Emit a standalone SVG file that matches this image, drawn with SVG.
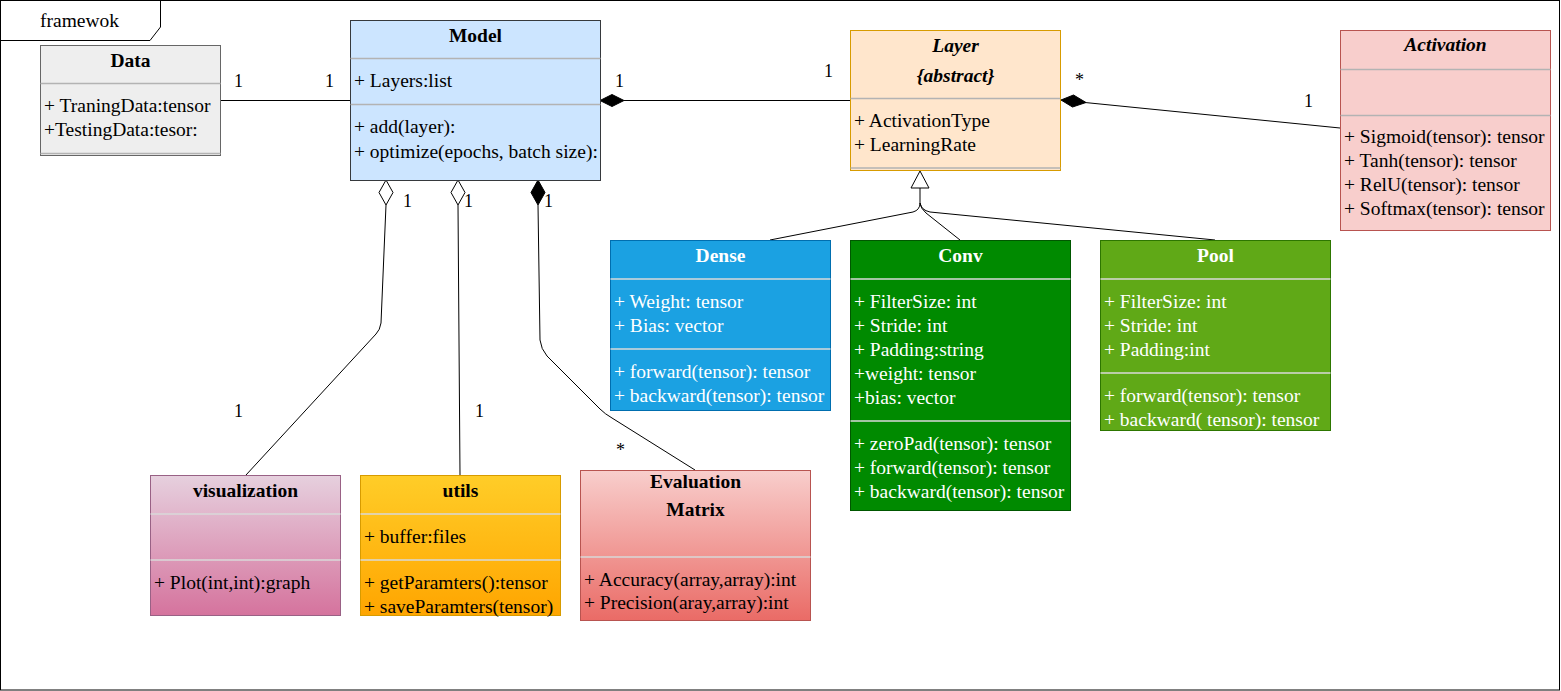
<svg xmlns="http://www.w3.org/2000/svg" width="1561" height="691" viewBox="0 0 1561 691">
<style>
text{font-family:"Liberation Serif","Times New Roman",serif;font-size:19.5px;fill:#000}
.t{font-weight:bold;text-anchor:middle}
.ti{font-weight:bold;font-style:italic;text-anchor:middle}
.w{fill:#fff}
.lbl{font-size:18px;fill:#000}
.div{stroke:#b3b3b3;stroke-width:1.5;fill:none}
.divd{stroke:#d9d9d9;stroke-width:1.5;fill:none}
.edge{stroke:#000;stroke-width:1;fill:none}
.dia{stroke:#000;stroke-width:1}
</style>
<defs>
<linearGradient id="gVis" x1="0" y1="0" x2="0" y2="1"><stop offset="0" stop-color="#e6d0de"/><stop offset="1" stop-color="#d5739d"/></linearGradient>
<linearGradient id="gUti" x1="0" y1="0" x2="0" y2="1"><stop offset="0" stop-color="#ffcd28"/><stop offset="1" stop-color="#ffa500"/></linearGradient>
<linearGradient id="gEva" x1="0" y1="0" x2="0" y2="1"><stop offset="0" stop-color="#f8cecc"/><stop offset="1" stop-color="#ea6b66"/></linearGradient>
</defs>
<rect x="0" y="0" width="1561" height="691" fill="#fff"/>
<g id="frame">
<rect x="0.5" y="0.5" width="1559" height="689.5" fill="none" stroke="#000" stroke-width="1"/>
<path d="M0.5,40.5 H150 L160.5,27 V0.5" fill="none" stroke="#000" stroke-width="1"/>
<text x="40" y="27">framewok</text>
</g>
<g id="connectors">
<path class="edge" d="M220,100.5 H350"/>
<path class="edge" d="M624,100.5 H850"/>
<polygon class="dia" fill="#000" points="600,100.5 612,94.5 624,100.5 612,106.5"/>
<path class="edge" d="M1085,102.5 L1340,128"/>
<polygon class="dia" fill="#000" points="1061,100 1073.5,95 1086,102.5 1072.5,107"/>
<polygon class="dia" fill="#fff" points="920,171 911,188 929,188"/>
<path class="edge" d="M920,188 V203 Q920,210 913,212 L770,240"/>
<path class="edge" d="M920,203 Q921,209 926,213 L960,240"/>
<path class="edge" d="M920,203 Q921,210 930,212 L1215,240"/>
<path class="edge" d="M386,205 L381,323 Q380,330 376,334 L246,475"/>
<polygon class="dia" fill="#fff" points="386,180 393,192.5 386,205 379,192.5"/>
<path class="edge" d="M458,205 L460,475"/>
<polygon class="dia" fill="#fff" points="458,180 465,192.5 458,205 451,192.5"/>
<path class="edge" d="M538,205 L540,340 Q541,349 547,356 L600,409 Q605,414 612,418 L695,470"/>
<polygon class="dia" fill="#000" points="538,180 545,192.5 538,205 531,192.5"/>
<text class="lbl" x="234" y="87">1</text>
<text class="lbl" x="325" y="87">1</text>
<text class="lbl" x="615" y="87">1</text>
<text class="lbl" x="824" y="77">1</text>
<text class="lbl" x="1075" y="86">*</text>
<text class="lbl" x="1304" y="107">1</text>
<text class="lbl" x="403" y="207">1</text>
<text class="lbl" x="464" y="207">1</text>
<text class="lbl" x="544" y="207">1</text>
<text class="lbl" x="234" y="417">1</text>
<text class="lbl" x="475" y="417">1</text>
<text class="lbl" x="616" y="456">*</text>
</g>
<g id="Data">
<rect x="40.5" y="45.5" width="180" height="110" fill="#eeeeee" stroke="#666666"/>
<path class="div" d="M40.5,83.5 H220.5 M40.5,153.5 H220.5"/>
<text class="t" x="130.5" y="67">Data</text>
<text x="44" y="112">+ TraningData:tensor</text>
<text x="44" y="136">+TestingData:tesor:</text>
</g>
<g id="Model">
<rect x="350.5" y="20.5" width="250" height="160" fill="#cce5ff" stroke="#36393d"/>
<path class="div" d="M350.5,58.5 H600.5 M350.5,104.5 H600.5"/>
<text class="t" x="475.5" y="42">Model</text>
<text x="354" y="87">+ Layers:list</text>
<text x="354" y="133">+ add(layer):</text>
<text x="354" y="158">+ optimize(epochs, batch size):</text>
</g>
<g id="Layer">
<rect x="850.5" y="30.5" width="210" height="140" fill="#ffe6cc" stroke="#d79b00"/>
<path class="div" d="M850.5,98.5 H1060.5 M850.5,168 H1060.5"/>
<text class="ti" x="955.5" y="52">Layer</text>
<text class="ti" x="955.5" y="82">{abstract}</text>
<text x="854" y="127">+ ActivationType</text>
<text x="854" y="151">+ LearningRate</text>
</g>
<g id="Activation">
<rect x="1340.5" y="30.5" width="210" height="200" fill="#f8cecc" stroke="#b85450"/>
<path class="div" d="M1340.5,69.5 H1550.5 M1340.5,115.5 H1550.5"/>
<text class="ti" x="1445.5" y="51">Activation</text>
<text x="1344" y="143">+ Sigmoid(tensor): tensor</text>
<text x="1344" y="167">+ Tanh(tensor): tensor</text>
<text x="1344" y="191">+ RelU(tensor): tensor</text>
<text x="1344" y="215">+ Softmax(tensor): tensor</text>
</g>
<g id="Dense">
<rect x="610.5" y="240.5" width="220" height="170" fill="#1ba1e2" stroke="#006eaf"/>
<path class="divd" d="M610.5,279 H830.5 M610.5,349 H830.5"/>
<text class="t w" x="720.5" y="262">Dense</text>
<text class="w" x="614" y="307.5">+ Weight: tensor</text>
<text class="w" x="614" y="331.5">+ Bias: vector</text>
<text class="w" x="614" y="378">+ forward(tensor): tensor</text>
<text class="w" x="614" y="402">+ backward(tensor): tensor</text>
</g>
<g id="Conv">
<rect x="850.5" y="240.5" width="220" height="270" fill="#008a00" stroke="#005700"/>
<path class="divd" d="M850.5,279 H1070.5 M850.5,421 H1070.5"/>
<text class="t w" x="960.5" y="262">Conv</text>
<text class="w" x="854" y="307.5">+ FilterSize: int</text>
<text class="w" x="854" y="331.5">+ Stride: int</text>
<text class="w" x="854" y="355.5">+ Padding:string</text>
<text class="w" x="854" y="379.5">+weight: tensor</text>
<text class="w" x="854" y="403.5">+bias: vector</text>
<text class="w" x="854" y="450">+ zeroPad(tensor): tensor</text>
<text class="w" x="854" y="474">+ forward(tensor): tensor</text>
<text class="w" x="854" y="498">+ backward(tensor): tensor</text>
</g>
<g id="Pool">
<rect x="1100.5" y="240.5" width="230" height="190" fill="#60a917" stroke="#2d7600"/>
<path class="divd" d="M1100.5,279 H1330.5 M1100.5,373 H1330.5"/>
<text class="t w" x="1215.5" y="262">Pool</text>
<text class="w" x="1104" y="307.5">+ FilterSize: int</text>
<text class="w" x="1104" y="331.5">+ Stride: int</text>
<text class="w" x="1104" y="355.5">+ Padding:int</text>
<text class="w" x="1104" y="402">+ forward(tensor): tensor</text>
<text class="w" x="1104" y="426">+ backward( tensor): tensor</text>
</g>
<g id="visualization">
<rect x="150.5" y="475.5" width="190" height="140" fill="url(#gVis)" stroke="#996185"/>
<path class="divd" d="M150.5,514 H340.5 M150.5,560 H340.5"/>
<text class="t" x="245.5" y="497">visualization</text>
<text x="154" y="588.5">+ Plot(int,int):graph</text>
</g>
<g id="utils">
<rect x="360.5" y="475.5" width="200" height="140" fill="url(#gUti)" stroke="#d79b00"/>
<path class="divd" d="M360.5,514 H560.5 M360.5,560 H560.5"/>
<text class="t" x="460.5" y="497">utils</text>
<text x="364" y="542.5">+ buffer:files</text>
<text x="364" y="588.5">+ getParamters():tensor</text>
<text x="364" y="612.5">+ saveParamters(tensor)</text>
</g>
<g id="EvaluationMatrix">
<rect x="580.5" y="470.5" width="230" height="150" fill="url(#gEva)" stroke="#b85450"/>
<path class="divd" d="M580.5,557 H810.5"/>
<text class="t" x="695.5" y="487.5">Evaluation</text>
<text class="t" x="695.5" y="516">Matrix</text>
<text x="584" y="586">+ Accuracy(array,array):int</text>
<text x="584" y="609">+ Precision(aray,array):int</text>
</g>
</svg>
